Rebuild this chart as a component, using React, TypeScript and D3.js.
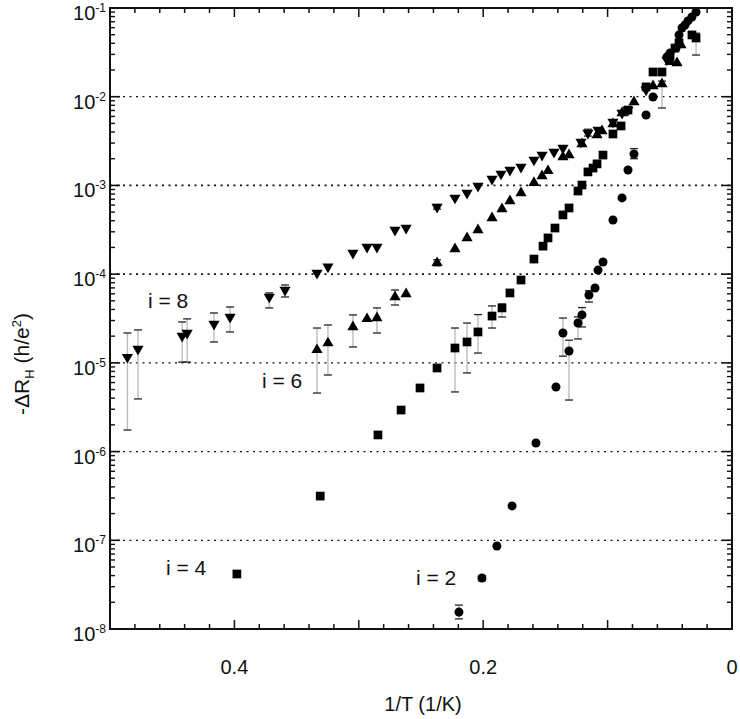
import React from "react";
import * as d3 from "d3";

// ---- data (1/T in 1/K, -ΔR_H in h/e^2) ----
const x2 = [0.2195, 0.201, 0.189, 0.1768, 0.1576, 0.1415, 0.1359, 0.131, 0.1238, 0.1206, 0.115, 0.1101, 0.1077, 0.1037, 0.0957, 0.0884, 0.0836, 0.0788, 0.0691, 0.0635, 0.0523, 0.0498, 0.045, 0.0426, 0.0402, 0.0378, 0.0354, 0.0322, 0.0289];
const y2 = [1.55e-8, 3.76e-8, 8.63e-8, 2.44e-7, 1.25e-6, 5.35e-6, 2.17e-5, 1.36e-5, 2.81e-5, 3.47e-5, 5.82e-5, 6.98e-5, 1.11e-4, 1.37e-4, 4.08e-4, 7.23e-4, 1.49e-3, 2.26e-3, 6.22e-3, 9.93e-3, 2.81e-2, 3.11e-2, 3.54e-2, 4.97e-2, 5.96e-2, 6.44e-2, 7.15e-2, 7.93e-2, 9.02e-2];
const err2: [number, number, number][] = [
  [0, 1.3e-8, 1.86e-8], [1, 3.5e-8, 4.0e-8], [6, 1.19e-5, 3.2e-5], [7, 3.81e-6, 1.8e-5],
  [8, 1.86e-5, 3.3e-5], [9, 2.54e-5, 4.2e-5], [10, 4.85e-5, 6.5e-5], [17, 2.0e-3, 2.6e-3],
];

const x4 = [0.398, 0.331, 0.2846, 0.266, 0.2508, 0.2371, 0.2227, 0.213, 0.2042, 0.1929, 0.1849, 0.1785, 0.1696, 0.1592, 0.1519, 0.1479, 0.1423, 0.1359, 0.131, 0.1238, 0.1206, 0.1158, 0.1117, 0.1085, 0.1037, 0.0957, 0.0892, 0.0836, 0.0691, 0.0635, 0.0563, 0.0498, 0.0458, 0.0426, 0.0322, 0.0289];
const y4 = [4.17e-8, 3.15e-7, 1.54e-6, 2.94e-6, 5.21e-6, 8.75e-6, 1.47e-5, 1.72e-5, 2.23e-5, 3.37e-5, 4.16e-5, 6.14e-5, 8.59e-5, 1.48e-4, 2.07e-4, 2.56e-4, 3.31e-4, 4.65e-4, 5.57e-4, 8.65e-4, 1.01e-3, 1.42e-3, 1.57e-3, 1.75e-3, 2.2e-3, 3.8e-3, 4.68e-3, 7.08e-3, 1.29e-2, 1.9e-2, 1.9e-2, 2.81e-2, 3.54e-2, 4.04e-2, 4.97e-2, 4.59e-2];
const err4: [number, number, number][] = [
  [6, 4.7e-6, 2.47e-5], [7, 7.69e-6, 2.81e-5], [8, 1.29e-5, 3.5e-5], [9, 2.47e-5, 4.38e-5],
  [10, 3.29e-5, 4.6e-5], [35, 2.95e-2, 5.2e-2],
];

const x6 = [0.3336, 0.3248, 0.3047, 0.2934, 0.2854, 0.2709, 0.262, 0.2371, 0.2227, 0.213, 0.2042, 0.1929, 0.1849, 0.1785, 0.1696, 0.1592, 0.1527, 0.1479, 0.1359, 0.131, 0.1206, 0.1085, 0.1045, 0.0957, 0.0884, 0.0788, 0.0635, 0.0563, 0.0498, 0.0442, 0.041];
const y6 = [1.4e-5, 1.67e-5, 2.54e-5, 3.13e-5, 3.21e-5, 5.53e-5, 5.97e-5, 1.34e-4, 1.92e-4, 2.56e-4, 3.15e-4, 4.29e-4, 5.43e-4, 6.68e-4, 8.22e-4, 1.07e-3, 1.28e-3, 1.46e-3, 2.09e-3, 2.2e-3, 2.93e-3, 3.71e-3, 4.11e-3, 4.93e-3, 6.56e-3, 8.73e-3, 1.32e-2, 1.39e-2, 2.47e-2, 2.4e-2, 3.83e-2];
const err6: [number, number, number][] = [
  [0, 4.57e-6, 2.47e-5], [1, 7.3e-6, 2.67e-5], [2, 1.51e-5, 3.47e-5], [4, 2.17e-5, 4.16e-5],
  [5, 4.49e-5, 6.62e-5], [7, 1.24e-4, 1.45e-4], [27, 7.46e-3, 1.5e-2],
];

const x8 = [0.486, 0.4775, 0.442, 0.438, 0.4164, 0.4035, 0.372, 0.3593, 0.3336, 0.3248, 0.3047, 0.2934, 0.2854, 0.2709, 0.262, 0.2371, 0.2227, 0.213, 0.2042, 0.1929, 0.1857, 0.1785, 0.1696, 0.1592, 0.1527, 0.1431, 0.1359, 0.1214, 0.1158, 0.1077, 0.0957, 0.0884, 0.0836, 0.0691, 0.0523];
const y8 = [1.16e-5, 1.43e-5, 2.01e-5, 2.17e-5, 2.74e-5, 3.29e-5, 5.53e-5, 6.62e-5, 1.03e-4, 1.21e-4, 1.73e-4, 2.02e-4, 2.02e-4, 3.15e-4, 3.31e-4, 5.71e-4, 7.23e-4, 8.22e-4, 9.87e-4, 1.18e-3, 1.35e-3, 1.49e-3, 1.61e-3, 1.94e-3, 2.2e-3, 2.38e-3, 2.64e-3, 3.09e-3, 3.9e-3, 4.22e-3, 5.2e-3, 6.56e-3, 7.08e-3, 1.2e-2, 2.6e-2];
const err8: [number, number, number][] = [
  [0, 1.75e-6, 2.17e-5], [1, 3.92e-6, 2.35e-5], [2, 1.02e-5, 2.89e-5], [3, 1.02e-5, 3.13e-5],
  [4, 1.72e-5, 3.65e-5], [5, 2.23e-5, 4.26e-5], [6, 4.16e-5, 6.14e-5], [7, 5.53e-5, 7.55e-5],
  [15, 5.4e-4, 6.1e-4], [28, 3.6e-3, 4.3e-3],
];

const seriesLabels = ["i = 2", "i = 4", "i = 6", "i = 8"];
const labelPos: [number, number][] = [[0.254, 3.1e-8], [0.455, 4.06e-8], [0.3778, 5.2e-6], [0.4695, 4.1e-5]];
const xTickLabels = [0.4, 0.2, 0];
const yDecades = [-8, -7, -6, -5, -4, -3, -2, -1];
const gridDecades = [-7, -6, -5, -4, -3, -2];

const FONT = "'Liberation Sans', Arial, sans-serif";

export default function App() {
  const L = 110, R = 732, T = 8, B = 629;
  const x = d3.scaleLinear().domain([0.5, 0]).range([L, R]);
  const y = d3.scaleLog().domain([1e-8, 1e-1]).range([B, T]);

  const series = [
    { xs: x2, ys: y2, err: err2, shape: "circle" },
    { xs: x4, ys: y4, err: err4, shape: "square" },
    { xs: x6, ys: y6, err: err6, shape: "up" },
    { xs: x8, ys: y8, err: err8, shape: "down" },
  ];

  const sym = {
    circle: d3.symbol().type(d3.symbolCircle).size(64)(),
    square: d3.symbol().type(d3.symbolSquare).size(76)(),
    up: d3.symbol().type(d3.symbolTriangle).size(54)(),
  } as Record<string, string | null>;

  const xMinor = d3.range(1, 25).map((i) => i * 0.02);
  const xMajor = [0.1, 0.2, 0.3, 0.4];
  const yMinor: number[] = [];
  for (let e = -8; e < -1; e++) for (let m = 2; m <= 9; m++) yMinor.push(m * Math.pow(10, e));

  return (
    <svg width={740} height={719} style={{ position: "absolute", left: 0, top: 0, background: "#fff" }} fontFamily={FONT}>
      {/* grid */}
      {gridDecades.map((d) => (
        <line key={"g" + d} x1={L} x2={R} y1={y(Math.pow(10, d))} y2={y(Math.pow(10, d))}
          stroke="#111" strokeWidth={d === -4 || d === -3 ? 1.8 : 1.3} strokeDasharray="2,4.5" />
      ))}

      {/* error bars */}
      {series.map((s, si) => (
        <g key={"e" + si}>
          {s.err.map(([i, lo, hi]) => {
            const cx = x(s.xs[i]);
            return (
              <g key={i}>
                <line x1={cx} x2={cx} y1={y(lo)} y2={y(hi)} stroke="#bdbdbd" strokeWidth={1.4} />
                <line x1={cx - 4} x2={cx + 4} y1={y(lo)} y2={y(lo)} stroke="#222" strokeWidth={1.3} />
                <line x1={cx - 4} x2={cx + 4} y1={y(hi)} y2={y(hi)} stroke="#222" strokeWidth={1.3} />
              </g>
            );
          })}
        </g>
      ))}

      {/* markers */}
      {series.map((s, si) => (
        <g key={"m" + si}>
          {s.xs.map((xv, i) => {
            const px = x(xv), py = y(s.ys[i]);
            if (s.shape === "down") {
              return <path key={i} d={sym.up as string} fill="#000" transform={`translate(${px},${py}) rotate(180)`} />;
            }
            return <path key={i} d={sym[s.shape] as string} fill="#000" transform={`translate(${px},${py})`} />;
          })}
        </g>
      ))}

      {/* frame */}
      <rect x={L} y={T} width={R - L} height={B - T} fill="none" stroke="#111" strokeWidth={2} />

      {/* x ticks */}
      {xMinor.map((v) => {
        const major = xMajor.some((m) => Math.abs(m - v) < 1e-9);
        const len = major ? 9 : 5;
        return (
          <g key={"xt" + v} stroke="#111" strokeWidth={1.5}>
            <line x1={x(v)} x2={x(v)} y1={B} y2={B - len} />
            <line x1={x(v)} x2={x(v)} y1={T} y2={T + len} />
          </g>
        );
      })}
      {/* y ticks */}
      {yDecades.map((d) => (
        <g key={"yt" + d} stroke="#111" strokeWidth={1.6}>
          <line x1={L} x2={L + 10} y1={y(Math.pow(10, d))} y2={y(Math.pow(10, d))} />
          <line x1={R} x2={R - 10} y1={y(Math.pow(10, d))} y2={y(Math.pow(10, d))} />
        </g>
      ))}
      {yMinor.map((v, i) => (
        <g key={"ym" + i} stroke="#111" strokeWidth={1.4}>
          <line x1={L} x2={L + 5} y1={y(v)} y2={y(v)} />
          <line x1={R} x2={R - 5} y1={y(v)} y2={y(v)} />
        </g>
      ))}

      {/* tick labels */}
      {xTickLabels.map((v) => (
        <text key={"xl" + v} x={x(v)} y={674} textAnchor="middle" fontSize={20} fill="#111">
          {String(v)}
        </text>
      ))}
      {yDecades.map((d) => (
        <text key={"yl" + d} x={106} y={y(Math.pow(10, d)) + 12} textAnchor="end" fontSize={20} fill="#111">
          <tspan>10</tspan>
          <tspan dy={-8} fontSize={12}>{String(d)}</tspan>
        </text>
      ))}

      {/* axis titles */}
      <text x={423} y={711} textAnchor="middle" fontSize={20} fill="#111">1/T (1/K)</text>
      <text transform="translate(29,364) rotate(-90)" textAnchor="middle" fontSize={21} fill="#111">
        <tspan>-ΔR</tspan>
        <tspan dy={5} fontSize={13}>H</tspan>
        <tspan dy={-5}> (h/e</tspan>
        <tspan dy={-8} fontSize={13}>2</tspan>
        <tspan dy={8}>)</tspan>
      </text>

      {/* series labels */}
      {seriesLabels.map((t, i) => (
        <text key={t} x={x(labelPos[i][0])} y={y(labelPos[i][1])} fontSize={21} fill="#111">{t}</text>
      ))}
    </svg>
  );
}
